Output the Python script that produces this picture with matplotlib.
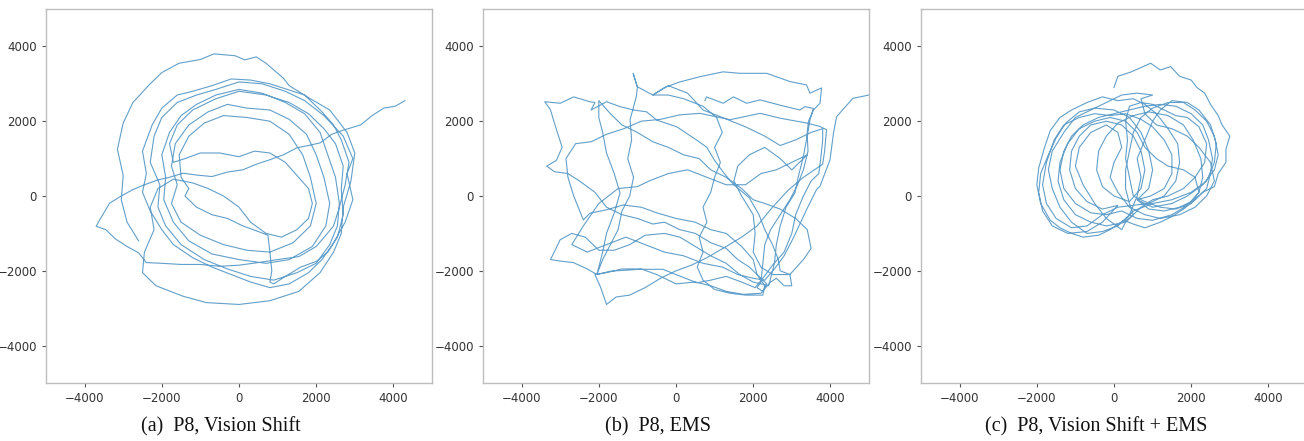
import numpy as np
import matplotlib
matplotlib.use('Agg')
import matplotlib.pyplot as plt

# walking trajectories (x, y)
path_vision = [
    # tail in from the upper right, chord across the middle
    (4300, 2550), (4050, 2400), (3750, 2350), (3450, 2150), (3150, 1900), (2700, 1760),
    (2400, 1650), (2100, 1420), (1800, 1350), (1500, 1290), (1150, 1100), (800, 970),
    (450, 850), (100, 700), (-300, 640), (-700, 520), (-1100, 560), (-1450, 610),
    (-1800, 500), (-2100, 430), (-2450, 300), (-2750, 170), (-3050, 0), (-3350, -190),
    (-3600, -620), (-3700, -810), (-3450, -900), (-3200, -1150), (-2900, -1350),
    (-2600, -1520), (-2400, -1780),
    (-2000, -1800), (-1500, -1830), (-1000, -1830), (-500, -1880), (0, -1850), (500, -1780),
    (1000, -1700), (1550, -1620), (2000, -1350), (2250, -1050), (2450, -800),
    # loop A
    (2600, -300), (2750, 300), (2850, 900), (2650, 1500), (2450, 1900), (2150, 2250),
    (1700, 2700), (1250, 2850), (800, 3000), (300, 3100), (-200, 3130), (-700, 2950),
    (-1200, 2800), (-1600, 2700), (-2000, 2350), (-2250, 1900), (-2500, 1200), (-2400, 600),
    (-2500, 100), (-2300, -400), (-2000, -900), (-1700, -1300), (-1200, -1650), (-700, -1900),
    (-200, -2100), (300, -2300), (800, -2450), (1300, -2350), (1800, -2050), (2150, -1700),
    (2450, -1250), (2750, -700),
    # loop B
    (2950, -100), (2800, 600), (2950, 1000), (2700, 1600), (2200, 2150), (1700, 2550),
    (1200, 2800), (600, 3000), (0, 3050), (-600, 2850), (-1100, 2700), (-1600, 2500),
    (-2000, 2100), (-2200, 1600), (-2300, 900), (-2050, 300), (-2100, -300), (-1900, -800),
    (-1500, -1300), (-900, -1700), (-300, -1950), (300, -2150), (900, -2250), (1500, -2050),
    (2000, -1800), (2350, -1300), (2550, -800),
    # loop C
    (2600, -200), (2500, 500), (2300, 1100), (2100, 1700), (1700, 2200), (1200, 2500),
    (600, 2750), (0, 2850), (-600, 2700), (-1100, 2450), (-1500, 2150), (-1800, 1700),
    (-2000, 1100), (-1900, 500), (-1950, -100), (-1700, -700), (-1300, -1200), (-700, -1550),
    (0, -1700), (700, -1800), (1300, -1700), (1900, -1350), (2250, -800),
    # loop D
    (2350, -200), (2200, 500), (2000, 1100), (1750, 1650), (1300, 2050), (800, 2300),
    (200, 2350), (-300, 2450), (-800, 2250), (-1300, 1900), (-1650, 1400), (-1750, 800),
    (-1600, 300), (-1750, -200), (-1500, -700), (-1000, -1050), (-400, -1300), (200, -1450),
    (800, -1500), (1400, -1250), (1850, -800),
    # loop E and the inner pieces
    (2000, -200), (1850, 500), (1650, 1100), (1300, 1650), (800, 2000), (200, 2100),
    (-400, 2150), (-900, 1950), (-1300, 1600), (-1550, 1100), (-1500, 500),
    (-1300, 200), (-1400, 0), (-1300, -100), (-1100, -300), (-700, -500), (-300, -600),
    (100, -800), (500, -950), (750, -1050), (800, -1500), (850, -2000), (800, -2300),
    (900, -2350), (1200, -2150), (1600, -1900), (2000, -1750), (2300, -1500), (2550, -1100),
    (2700, -500), (2650, 200), (2700, 800), (2500, 1400), (2200, 1800), (1800, 2200),
    (1300, 2500), (700, 2700), (0, 2800), (-600, 2600), (-1200, 2300), (-1600, 1900),
    (-1800, 1400), (-1700, 900), (-1400, 1000), (-1000, 1150), (-500, 1150), (0, 1050),
    (400, 1200), (800, 1150), (1200, 900), (1500, 550), (1800, 200), (1900, -200),
    (1800, -600), (1500, -900), (1100, -1100), (700, -1000), (300, -700), (0, -300),
    (-400, 0), (-800, 200), (-1200, 350), (-1700, 450), (-2100, 200), (-2300, -300),
    (-2200, -900), (-2450, -1500), (-2500, -2050),
    # outer loop
    (-2150, -2400), (-1450, -2680), (-850, -2850), (0, -2900), (800, -2800), (1550, -2550),
    (2100, -2050), (2450, -1500), (2650, -1000), (2700, -300), (2900, 400), (3000, 1150),
    (2800, 1700), (2350, 2300), (1850, 2600), (1300, 2950), (1150, 3150), (700, 3550),
    (450, 3720), (150, 3640), (-100, 3750), (-650, 3800), (-1000, 3650), (-1550, 3550),
    (-2000, 3300), (-2300, 3000), (-2750, 2500), (-3000, 1950), (-3150, 1250), (-3000, 550),
    (-3050, -100), (-2900, -700), (-2600, -1200),
]

path_ems = [
    (750, 2550), (790, 2650), (1220, 2480), (1490, 2650), (1830, 2480), (2180, 2570),
    (2690, 2430), (3210, 2300), (3340, 2390), (3560, 2340), (3470, 2030), (3400, 1600),
    (3420, 1200), (3300, 700), (3150, 300), (2950, -100), (2700, -500), (2450, -900),
    (2300, -1300), (2250, -1800), (2200, -2300), (2100, -2450), (2250, -2550), (2350, -2350),
    (2200, -2200),
    (1900, -1900), (1600, -1700), (1300, -1400), (900, -1250), (500, -1000), (100, -900),
    (-300, -700), (-600, -750), (-1000, -600), (-1400, -500), (-1800, -300), (-2100, 100),
    (-2500, 400), (-2800, 600), (-3150, 650), (-3350, 800), (-3100, 950), (-2950, 1300),
    (-3150, 1950), (-3250, 2300), (-3400, 2520),
    (-3000, 2480), (-2650, 2650), (-2230, 2520), (-2100, 2500), (-2200, 2300), (-2050, 2380),
    (-1800, 2520), (-1450, 2390), (-1100, 2300), (-760, 2250), (-500, 2030), (20, 1850),
    (530, 1500), (800, 1300), (1000, 950), (1250, 600), (1500, 300), (1900, -50),
    (2150, -500), (2300, -900), (2500, -1300), (2650, -1700), (2700, -2000), (2950, -2100),
    (3000, -2400), (2800, -2400), (2600, -2200), (2450, -2300),
    (2200, -2600), (1750, -2630), (1300, -2550), (900, -2400), (500, -2300), (0, -2350),
    (-500, -2100), (-900, -1950), (-1400, -1950), (-1800, -2050), (-2100, -2100),
    (-1950, -2450), (-1800, -2900), (-1550, -2700), (-1200, -2650), (-800, -2450),
    (-400, -2200), (0, -2000), (400, -1850), (800, -1650), (1300, -1350), (1700, -1100),
    (2100, -800), (2500, -300), (2900, 150), (3300, 500), (3800, 850), (3850, 1200),
    (3900, 1770),
    (3730, 1860), (3390, 1950), (2700, 2080), (2180, 2210), (1400, 2040), (620, 2210),
    (100, 2170), (-400, 2050), (-900, 2000), (-1350, 1800), (-1800, 1650), (-2200, 1450),
    (-2600, 1400), (-2850, 1000), (-2800, 500), (-2650, 0), (-2400, -640), (-2230, -460),
    (-1800, -370), (-1370, -240), (-900, -300), (-500, -450), (0, -600), (500, -700),
    (900, -900), (1300, -1000), (1700, -1350), (2000, -1700), (2100, -2100), (2300, -2400),
    (2250, -2650), (1800, -2650), (1400, -2600), (1000, -2500),
    (700, -2250), (550, -1900), (700, -1500), (600, -1100), (800, -700), (700, -300),
    (900, 100), (1000, 500), (1150, 900), (1000, 1300), (1200, 1700), (1050, 2100),
    (700, 2400), (200, 2600), (-200, 2700), (-600, 2700), (-300, 2900), (100, 3050),
    (620, 3190), (1220, 3320), (1660, 3280), (2350, 3280),
    (2950, 3060), (3380, 2970), (3470, 2750), (3770, 2890), (3730, 2480), (3560, 2300),
    (3430, 1990), (3380, 1500), (3300, 1060), (3170, 520), (3080, 80), (2850, -300),
    (2700, -800), (2600, -1300), (2550, -1800), (2400, -2400),
    (2000, -2300), (1650, -2100), (1300, -1800), (900, -1600), (500, -1350), (100, -1100),
    (-300, -1000), (-800, -1050), (-1200, -1300), (-1600, -1450), (-2000, -1450),
    (-2350, -1100), (-2700, -1000), (-3000, -1170), (-3250, -1700), (-3000, -1740),
    (-2660, -1780), (-2300, -1950), (-2050, -2100), (-1700, -2010), (-930, -1960),
    (-340, -1960), (100, -2140), (540, -2320), (900, -2250), (1300, -2150), (1700, -2300),
    (2050, -2450),
    (2250, -2200), (2500, -1850), (2800, -1500), (3000, -1000), (3100, -500), (3300, 0),
    (3500, 400), (3700, 600), (3750, 1000), (3800, 1500), (3800, 1800),
    (3500, 1700), (3100, 1500), (2700, 1350), (2300, 1600), (1800, 1850), (1200, 2100),
    (700, 2300), (300, 2750), (-200, 2950), (-600, 2700), (-1000, 2920), (-1110, 3280),
    (-1000, 2900), (-1030, 2650), (-1190, 2040), (-1150, 1500), (-1250, 1000),
    (-1100, 500), (-1200, 0), (-1400, -400), (-1500, -900), (-1700, -1300), (-1900, -1700),
    (-2050, -2100),
    (-1900, -1500), (-1800, -1000), (-1600, -450), (-1450, 80), (-1600, 600), (-1800, 1150),
    (-1900, 1700), (-2000, 2100), (-2000, 2550),
    (-1700, 2200), (-1400, 1900), (-1000, 1700), (-600, 1450), (-200, 1300), (200, 1100),
    (600, 1000), (900, 700), (1300, 500), (1700, 200), (2000, -100), (2300, -200),
    (2700, -350), (3100, -600), (3400, -900), (3500, -1400), (3300, -1700), (2950, -2100),
    (2500, -2100), (2200, -1900), (2000, -1500), (2050, -1000), (2000, -500), (1700, 0),
    (1500, 400), (1600, 800), (1900, 1100), (2300, 1300), (2700, 1000), (3000, 700),
    (3400, 1100), (3000, 900), (2600, 700), (2200, 600), (1800, 300), (1300, 300),
    (800, 500), (300, 700), (-200, 600), (-700, 400), (-1000, 250), (-1500, 200),
    (-2000, -200), (-2400, -800), (-2700, -1300),
    (-2300, -1500), (-1800, -1300), (-1300, -1100), (-800, -1300), (-300, -1500),
    (200, -1600), (700, -1800), (1200, -1900), (1600, -2100), (2000, -2200), (2300, -2250),
    (2550, -1950), (2800, -1600), (3050, -1100), (3380, -370), (3640, 170), (3730, 260),
    (3990, 970), (4080, 1680), (4160, 2120), (4580, 2610), (5000, 2700),
]

path_vision_ems = [
    # large outer loop at the top right
    (0, 2900), (100, 3200), (450, 3320), (950, 3550), (1200, 3370), (1470, 3460),
    (1700, 3200), (2000, 3100), (2150, 2900), (2350, 2750), (2500, 2450), (2700, 2150),
    (2800, 1900), (3000, 1600), (2900, 1250), (2900, 900), (2700, 600), (2600, 250),
    (2300, 100), (2100, -100), (1800, -350), (1500, -550), (1200, -700), (800, -850),
    (500, -750), (250, -650),
    (-100, -900), (-400, -1050), (-800, -1100), (-1100, -1000), (-1400, -850), (-1650, -650),
    (-1900, -200), (-2000, 300), (-1950, 750), (-1800, 1300), (-1650, 1750), (-1400, 2100),
    (-1100, 2300), (-700, 2500), (-300, 2650), (100, 2550), (500, 2600), (800, 2450),
    (1100, 2200), (1400, 1800), (1650, 1400), (1700, 900), (1600, 400), (1300, 0),
    (900, -200), (500, -250),
    (100, -300), (-300, -500), (-700, -800), (-1100, -850), (-1500, -600), (-1750, -200),
    (-1850, 300), (-1750, 900), (-1550, 1500), (-1300, 1900), (-900, 2100), (-500, 2200),
    (-100, 2150), (300, 2200), (700, 2050), (1000, 1850), (1300, 1500), (1500, 1100),
    (1500, 600), (1300, 200), (950, 0), (600, -100),
    (900, -350), (1300, -400), (1700, -300), (2100, -100), (2400, 200), (2500, 600),
    (2550, 1000), (2450, 1500), (2300, 1900), (2000, 2200), (1600, 2400), (1200, 2450),
    (800, 2400), (400, 2300), (0, 2200), (-400, 2100), (-800, 1900), (-1100, 1600),
    (-1300, 1200), (-1400, 700), (-1300, 200), (-1000, -200), (-600, -450), (-200, -500),
    (200, -400),
    (600, -600), (1000, -650), (1500, -500), (1900, -250), (2200, 100), (2300, 500),
    (2250, 1000), (2050, 1500), (1800, 1900), (1400, 2150), (900, 2250), (500, 2150),
    (100, 1950), (-200, 1600), (-400, 1200), (-450, 700), (-300, 250), (0, 0), (400, -150),
    (700, 200), (800, 700), (700, 1200), (500, 1600), (200, 1900), (-200, 2000),
    (-600, 1900), (-900, 1600), (-1100, 1200), (-1150, 700), (-1000, 200), (-700, -150),
    (-300, -350), (100, -250),
    (-300, -700), (-700, -950), (-1200, -1000), (-1600, -800), (-1850, -400), (-1950, 100),
    (-1900, 600), (-1700, 1100), (-1500, 1550), (-1250, 1950), (-900, 2250), (-500, 2350),
    (0, 2300), (400, 2100), (700, 1700), (900, 1200), (1000, 700), (900, 200), (600, -100),
    (1000, -300), (1500, -200), (1900, 0), (2300, 300), (2600, 700), (2700, 1100),
    (2600, 1600), (2400, 2000), (2100, 2300), (1800, 2500), (1400, 2500), (1000, 2350),
    (700, 2100), (500, 1700), (400, 1200), (300, 700), (300, 200), (400, -200), (500, -500),
    (300, -700), (-200, -800), (-600, -700), (-1000, -500), (-1300, -100), (-1450, 400),
    (-1400, 900), (-1200, 1400), (-900, 1800), (-500, 2000), (-100, 2100), (300, 2000),
    (600, 1700), (800, 1300), (1100, 1000), (1400, 800), (1800, 700), (2100, 500),
    (2200, 100), (2000, -200), (1600, -350), (1200, -300), (800, -150), (500, 0),
    (400, 500), (300, 1000), (350, 1500), (300, 2000), (400, 2400), (700, 2500),
    (1000, 2450), (1300, 2300), (1600, 2150), (1900, 2100), (2200, 1850), (2400, 1400),
    (2350, 900), (2100, 500), (1800, 200), (1400, 0), (1000, -100), (700, -300),
    (300, -700), (200, -900),
    (-200, -600), (-500, -200), (-800, 300), (-1000, 800), (-900, 1300), (-600, 1700),
    (-200, 1900), (100, 1700), (200, 1300), (0, 900), (-100, 500), (100, 100), (400, -300),
    (800, -500), (1200, -600), (1700, -500), (2100, -300), (2400, 0), (2600, 400),
    (2500, 900), (2200, 1300), (1900, 1600), (1500, 1800), (1100, 1900), (800, 2200),
    (700, 2600), (1000, 2700),
    (600, 2750), (200, 2700), (-200, 2500), (-600, 2300), (-1000, 2100), (-1300, 1700),
    (-1600, 1200), (-1700, 700), (-1600, 200), (-1400, -300), (-1100, -700), (-700, -1000),
    (-300, -950), (100, -800), (400, -500), (600, 0), (700, 500), (600, 1000), (800, 1500),
    (1000, 2000), (1200, 2300), (1500, 2550), (1900, 2500), (2200, 2300), (2500, 1900),
    (2650, 1400), (2600, 900), (2400, 400), (2000, 100), (1500, -100), (1000, -200),
    (500, -400), (250, -700),
]

captions = ['(a)  P8, Vision Shift', '(b)  P8, EMS', '(c)  P8, Vision Shift + EMS']
paths = [path_vision, path_ems, path_vision_ems]
ticks = [-4000, -2000, 0, 2000, 4000]

W, H = 1304, 441
fig = plt.figure(figsize=(W / 100, H / 100), dpi=100)

ax_left_px = [46, 483, 921]
caption_x_px = [221, 658, 1096]

for i, pts in enumerate(paths):
    ax = fig.add_axes([ax_left_px[i] / W, 1 - 383 / H, 386 / W, 374 / H])
    xy = np.array(pts, dtype=float)
    ax.plot(xy[:, 0], xy[:, 1], color='#1f77b4', linewidth=0.8, alpha=0.7)
    ax.set_xlim(-5000, 5000)
    ax.set_ylim(-5000, 5000)
    ax.set_xticks(ticks)
    ax.set_yticks(ticks)
    ax.tick_params(direction='out', length=3, width=0.8, color='#555555',
                   labelcolor='#333333', labelsize=8.5)
    for sp in ax.spines.values():
        sp.set_color('#bdbdbd')
        sp.set_linewidth(1.0)
    fig.text(caption_x_px[i] / W, 1 - 427 / H, captions[i], ha='center', va='center',
             fontsize=14.5, family='Liberation Serif', color='#111111')

fig.savefig('out.png', dpi=100)
